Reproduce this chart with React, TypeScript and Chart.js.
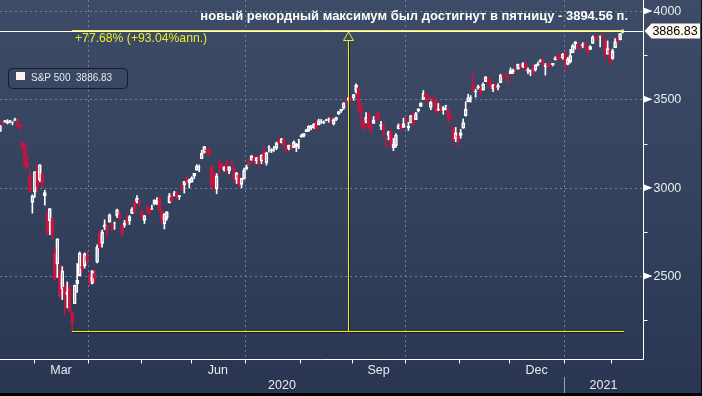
import React, { useEffect, useRef } from 'react';
import { Chart, registerables } from 'chart.js';

Chart.register(...registerables);

// ---- DATA (S&P 500 daily candles) ----
const dates: string[] = [
  '2020-02-10','2020-02-11','2020-02-12','2020-02-13','2020-02-14','2020-02-18','2020-02-19','2020-02-20','2020-02-21','2020-02-24','2020-02-25','2020-02-26','2020-02-27','2020-02-28',
  '2020-03-02','2020-03-03','2020-03-04','2020-03-05','2020-03-06','2020-03-09','2020-03-10','2020-03-11','2020-03-12','2020-03-13','2020-03-16','2020-03-17','2020-03-18','2020-03-19','2020-03-20','2020-03-23','2020-03-24','2020-03-25','2020-03-26','2020-03-27','2020-03-30','2020-03-31',
  '2020-04-01','2020-04-02','2020-04-03','2020-04-06','2020-04-07','2020-04-08','2020-04-09','2020-04-13','2020-04-14','2020-04-15','2020-04-16','2020-04-17','2020-04-20','2020-04-21','2020-04-22','2020-04-23','2020-04-24','2020-04-27','2020-04-28','2020-04-29','2020-04-30',
  '2020-05-01','2020-05-04','2020-05-05','2020-05-06','2020-05-07','2020-05-08','2020-05-11','2020-05-12','2020-05-13','2020-05-14','2020-05-15','2020-05-18','2020-05-19','2020-05-20','2020-05-21','2020-05-22','2020-05-26','2020-05-27','2020-05-28','2020-05-29',
  '2020-06-01','2020-06-02','2020-06-03','2020-06-04','2020-06-05','2020-06-08','2020-06-09','2020-06-10','2020-06-11','2020-06-12','2020-06-15','2020-06-16','2020-06-17','2020-06-18','2020-06-19','2020-06-22','2020-06-23','2020-06-24','2020-06-25','2020-06-26','2020-06-29','2020-06-30',
  '2020-07-01','2020-07-02','2020-07-06','2020-07-07','2020-07-08','2020-07-09','2020-07-10','2020-07-13','2020-07-14','2020-07-15','2020-07-16','2020-07-17','2020-07-20','2020-07-21','2020-07-22','2020-07-23','2020-07-24','2020-07-27','2020-07-28','2020-07-29','2020-07-30','2020-07-31',
  '2020-08-03','2020-08-04','2020-08-05','2020-08-06','2020-08-07','2020-08-10','2020-08-11','2020-08-12','2020-08-13','2020-08-14','2020-08-17','2020-08-18','2020-08-19','2020-08-20','2020-08-21','2020-08-24','2020-08-25','2020-08-26','2020-08-27','2020-08-28','2020-08-31',
  '2020-09-01','2020-09-02','2020-09-03','2020-09-04','2020-09-08','2020-09-09','2020-09-10','2020-09-11','2020-09-14','2020-09-15','2020-09-16','2020-09-17','2020-09-18','2020-09-21','2020-09-22','2020-09-23','2020-09-24','2020-09-25','2020-09-28','2020-09-29','2020-09-30',
  '2020-10-01','2020-10-02','2020-10-05','2020-10-06','2020-10-07','2020-10-08','2020-10-09','2020-10-12','2020-10-13','2020-10-14','2020-10-15','2020-10-16','2020-10-19','2020-10-20','2020-10-21','2020-10-22','2020-10-23','2020-10-26','2020-10-27','2020-10-28','2020-10-29','2020-10-30',
  '2020-11-02','2020-11-03','2020-11-04','2020-11-05','2020-11-06','2020-11-09','2020-11-10','2020-11-11','2020-11-12','2020-11-13','2020-11-16','2020-11-17','2020-11-18','2020-11-19','2020-11-20','2020-11-23','2020-11-24','2020-11-25','2020-11-27','2020-11-30',
  '2020-12-01','2020-12-02','2020-12-03','2020-12-04','2020-12-07','2020-12-08','2020-12-09','2020-12-10','2020-12-11','2020-12-14','2020-12-15','2020-12-16','2020-12-17','2020-12-18','2020-12-21','2020-12-22','2020-12-23','2020-12-24','2020-12-28','2020-12-29','2020-12-30','2020-12-31',
  '2021-01-04','2021-01-05','2021-01-06','2021-01-07','2021-01-08','2021-01-11','2021-01-12','2021-01-13','2021-01-14','2021-01-15','2021-01-19','2021-01-20','2021-01-21','2021-01-22','2021-01-25','2021-01-26','2021-01-27','2021-01-28','2021-01-29',
  '2021-02-01','2021-02-02','2021-02-03','2021-02-04','2021-02-05',
];

const open: number[] = [
  3318.28,3365.87,3370.50,3365.90,3378.08,3369.04,3380.39,3380.45,3360.50,3257.61,3238.94,3139.90,3062.54,2916.90,
  2974.28,3096.46,3045.75,3075.70,2954.20,2863.89,2813.48,2825.60,2630.86,2569.99,2508.59,2425.66,2436.50,2393.48,2431.94,2290.71,2344.44,2457.77,2501.29,2555.87,2558.98,2614.69,
  2498.08,2458.54,2514.92,2578.28,2738.65,2685.00,2776.99,2782.46,2805.10,2795.64,2799.34,2842.43,2845.62,2784.81,2787.89,2810.42,2812.64,2854.65,2909.96,2918.46,2930.91,
  2869.09,2815.01,2868.88,2883.14,2878.26,2908.83,2915.46,2939.50,2865.86,2794.54,2829.95,2913.86,2948.59,2953.63,2969.95,2948.05,3004.08,3015.65,3046.61,3025.17,
  3031.48,3064.78,3098.90,3111.56,3163.84,3199.92,3213.32,3213.42,3123.53,3071.04,2993.76,3131.00,3136.13,3101.64,3140.29,3094.42,3138.70,3114.40,3046.60,3073.20,3018.59,3050.20,
  3105.92,3143.64,3155.29,3166.44,3153.07,3176.17,3152.47,3205.08,3141.11,3225.98,3208.36,3224.21,3224.29,3268.52,3254.86,3271.64,3218.58,3219.84,3234.27,3227.22,3231.76,3270.45,
  3288.26,3289.92,3317.37,3323.17,3340.05,3356.04,3370.34,3355.46,3372.95,3368.66,3380.86,3387.04,3392.51,3360.48,3386.01,3418.09,3435.95,3449.97,3485.14,3494.69,3509.73,
  3507.44,3543.76,3564.74,3453.60,3371.88,3369.82,3412.56,3352.70,3363.56,3407.73,3411.23,3346.86,3357.38,3285.57,3295.75,3320.11,3226.14,3236.66,3333.90,3350.92,3341.21,
  3385.87,3338.94,3367.27,3408.74,3384.56,3434.28,3459.67,3500.02,3534.01,3515.47,3453.72,3493.50,3493.66,3439.38,3439.91,3438.50,3464.90,3441.42,3403.15,3342.48,3277.17,3293.59,
  3296.20,3336.25,3406.46,3485.74,3508.34,3583.04,3543.26,3563.22,3562.67,3552.57,3600.16,3610.31,3612.09,3559.41,3579.31,3566.82,3594.52,3635.50,3638.55,3634.18,
  3645.87,3653.78,3668.28,3670.94,3694.73,3683.05,3705.98,3659.13,3656.08,3675.27,3666.41,3696.25,3713.65,3722.39,3684.28,3698.08,3693.42,3694.03,3723.03,3750.01,3736.19,3733.27,
  3764.61,3698.02,3712.20,3764.71,3815.05,3803.14,3801.62,3802.23,3814.98,3788.73,3781.88,3816.22,3857.46,3844.24,3851.68,3862.96,3836.83,3755.75,3778.05,
  3731.17,3791.84,3840.27,3836.66,3878.30,
];

const high: number[] = [
  3352.26,3375.63,3381.47,3385.09,3380.69,3375.01,3393.52,3389.15,3360.76,3259.81,3246.99,3182.51,3097.07,2959.72,
  3090.96,3136.72,3130.97,3083.04,2985.93,2863.89,2882.59,2825.60,2660.95,2711.33,2562.98,2553.93,2453.57,2466.97,2453.01,2300.73,2449.71,2571.42,2637.01,2615.91,2631.80,2641.39,
  2522.75,2533.22,2538.18,2676.85,2756.89,2760.75,2818.57,2782.46,2851.85,2801.88,2806.51,2879.22,2868.98,2785.54,2815.10,2844.90,2842.71,2887.72,2921.15,2954.86,2930.91,
  2869.09,2844.24,2898.23,2891.11,2901.92,2932.16,2944.25,2945.82,2874.14,2852.80,2865.01,2968.09,2964.21,2980.29,2978.50,2956.76,3021.72,3036.25,3068.67,3049.17,
  3062.18,3081.07,3130.94,3128.91,3211.72,3233.13,3222.71,3223.27,3123.53,3088.42,3079.76,3153.45,3141.16,3120.00,3155.53,3120.92,3154.90,3115.01,3086.25,3073.73,3053.89,3111.51,
  3128.44,3165.81,3182.59,3184.15,3171.80,3179.78,3186.82,3235.32,3200.95,3238.28,3220.39,3233.52,3258.61,3277.29,3279.32,3279.99,3227.26,3241.43,3243.72,3264.74,3250.92,3272.17,
  3302.73,3306.84,3330.77,3351.03,3352.54,3363.29,3381.01,3387.89,3387.24,3378.51,3387.59,3395.06,3399.54,3390.80,3399.96,3432.09,3444.21,3481.07,3501.38,3509.23,3514.77,
  3528.03,3588.11,3564.85,3479.15,3379.97,3424.77,3425.55,3368.95,3402.93,3419.48,3428.92,3375.17,3362.27,3285.57,3320.31,3323.35,3278.70,3306.88,3360.74,3357.92,3393.56,
  3397.18,3369.10,3409.57,3431.56,3426.26,3447.28,3482.34,3549.85,3534.01,3527.94,3489.08,3515.76,3502.42,3476.93,3464.86,3460.53,3466.46,3441.42,3409.51,3342.48,3341.05,3304.93,
  3330.14,3389.49,3486.25,3529.05,3521.58,3645.99,3557.22,3581.16,3569.02,3593.66,3628.51,3623.11,3619.09,3585.22,3581.23,3589.81,3642.31,3635.50,3644.31,3634.18,
  3678.45,3670.96,3682.73,3699.20,3697.41,3708.45,3712.39,3678.49,3665.91,3697.61,3695.29,3711.27,3725.12,3726.70,3702.90,3698.26,3711.24,3703.82,3740.51,3756.12,3744.63,3760.20,
  3769.99,3737.83,3783.04,3811.55,3826.69,3817.86,3810.78,3820.96,3823.60,3788.73,3804.53,3859.75,3861.45,3852.31,3859.23,3870.90,3836.83,3830.50,3778.05,
  3784.32,3843.09,3847.51,3872.42,3894.56,
];

const low: number[] = [
  3317.77,3352.72,3369.72,3360.52,3366.15,3355.61,3378.83,3341.02,3328.45,3214.65,3118.77,3108.99,2977.39,2855.84,
  2945.19,2976.63,3034.38,2999.83,2901.54,2734.43,2734.00,2707.22,2478.86,2492.37,2380.94,2367.04,2280.52,2319.78,2295.56,2191.86,2344.44,2407.53,2500.72,2520.02,2545.28,2571.15,
  2447.49,2455.79,2459.96,2574.57,2657.67,2663.30,2762.36,2721.17,2805.10,2761.54,2764.32,2830.88,2820.43,2727.10,2775.95,2794.26,2791.76,2852.89,2860.71,2912.16,2892.47,
  2821.61,2797.85,2863.55,2847.65,2876.48,2902.88,2903.44,2869.59,2793.15,2766.64,2816.78,2913.86,2922.35,2953.63,2938.57,2933.59,2988.17,2969.75,3023.40,2998.61,
  3031.48,3051.64,3098.90,3090.41,3163.84,3196.00,3193.11,3181.49,2999.49,2984.47,2965.66,3076.06,3108.03,3093.51,3083.11,3079.39,3127.12,3032.13,3024.01,3004.63,2999.74,3047.83,
  3101.17,3124.52,3155.29,3142.93,3136.53,3115.70,3136.22,3149.43,3127.66,3200.76,3198.59,3205.65,3215.16,3247.77,3253.10,3222.66,3200.05,3214.25,3216.17,3227.22,3204.13,3220.26,
  3284.53,3286.37,3317.37,3318.14,3328.72,3335.44,3326.44,3355.46,3363.35,3361.64,3379.22,3370.15,3369.66,3354.69,3379.31,3413.13,3425.84,3444.15,3468.35,3484.32,3493.25,
  3494.60,3535.23,3427.41,3349.63,3329.27,3366.84,3329.25,3310.47,3363.56,3389.25,3384.45,3328.82,3292.40,3229.10,3270.95,3232.57,3209.45,3228.44,3332.91,3327.54,3340.47,
  3361.39,3323.69,3367.27,3354.54,3384.56,3428.15,3458.07,3499.61,3500.86,3480.55,3440.89,3480.45,3419.93,3435.65,3433.06,3415.34,3440.45,3364.86,3388.71,3268.89,3259.82,3233.94,
  3279.74,3336.25,3405.17,3485.74,3484.34,3547.48,3511.91,3557.00,3518.58,3552.57,3600.16,3588.68,3567.33,3543.84,3556.85,3552.77,3594.52,3617.76,3629.33,3594.39,
  3645.87,3644.84,3657.17,3670.94,3678.88,3678.83,3660.54,3645.18,3633.40,3645.84,3659.62,3688.57,3710.87,3685.84,3636.48,3676.16,3689.28,3689.32,3723.03,3723.31,3730.21,3726.88,
  3662.71,3695.07,3705.34,3764.71,3783.60,3789.02,3776.51,3791.50,3792.86,3749.62,3780.37,3816.22,3845.05,3830.41,3797.16,3847.78,3732.48,3755.75,3694.12,
  3725.62,3791.84,3816.68,3836.66,3874.93,
];

const close: number[] = [
  3352.09,3357.75,3379.45,3373.94,3380.16,3370.29,3386.15,3373.23,3337.75,3225.89,3128.21,3116.39,2978.76,2954.22,
  3090.23,3003.37,3130.12,3023.94,2972.37,2746.56,2882.23,2741.38,2480.64,2711.02,2386.13,2529.19,2398.10,2409.39,2304.92,2237.40,2447.33,2475.56,2630.07,2541.47,2626.65,2584.59,
  2470.50,2526.90,2488.65,2663.68,2659.41,2749.98,2789.82,2761.63,2846.06,2783.36,2799.55,2874.56,2823.16,2736.56,2799.31,2797.80,2836.74,2878.48,2863.39,2939.51,2912.43,
  2830.71,2842.74,2868.44,2848.42,2881.19,2929.80,2930.32,2870.12,2820.00,2852.50,2863.70,2953.91,2922.94,2971.61,2948.51,2955.45,2991.77,3036.13,3029.73,3044.31,
  3055.73,3080.82,3122.87,3112.35,3193.93,3232.39,3207.18,3190.14,3002.10,3041.31,3066.59,3124.74,3113.49,3115.34,3097.74,3117.86,3131.29,3050.33,3083.76,3009.05,3053.24,3100.29,
  3115.86,3130.01,3179.72,3145.32,3169.94,3152.05,3185.04,3155.22,3197.52,3226.56,3215.57,3224.73,3251.84,3257.30,3276.02,3235.66,3215.63,3239.41,3218.44,3258.44,3246.22,3271.12,
  3294.61,3306.51,3327.77,3349.16,3351.28,3360.47,3333.69,3380.35,3373.43,3372.85,3381.99,3389.78,3374.85,3385.51,3397.16,3431.28,3443.62,3478.73,3484.55,3508.01,3500.31,
  3526.65,3580.84,3455.06,3426.96,3331.84,3398.96,3339.19,3340.97,3383.54,3401.20,3385.49,3357.01,3319.47,3281.06,3315.57,3236.92,3246.59,3298.46,3351.60,3335.47,3363.00,
  3380.80,3348.42,3408.60,3360.97,3419.44,3446.83,3477.14,3534.22,3511.93,3488.67,3483.34,3483.81,3426.92,3443.12,3435.56,3453.49,3465.39,3400.97,3390.68,3271.03,3310.11,3269.96,
  3310.24,3369.16,3443.44,3510.45,3509.44,3550.50,3545.53,3572.66,3537.01,3585.15,3626.91,3609.53,3567.79,3581.87,3557.54,3577.59,3635.41,3629.65,3638.35,3621.63,
  3662.45,3669.01,3666.72,3699.12,3691.96,3702.25,3672.82,3668.10,3663.46,3647.49,3694.62,3701.17,3722.48,3709.41,3694.92,3687.26,3690.01,3703.06,3735.36,3727.04,3732.04,3756.07,
  3700.65,3726.86,3748.14,3803.79,3824.68,3799.61,3801.19,3809.84,3795.54,3768.25,3798.91,3851.85,3853.07,3841.47,3855.36,3849.62,3750.77,3787.38,3714.24,
  3773.86,3826.31,3830.17,3871.74,3886.83,
];

const yMajorTicks: number[] = [2500, 3000, 3500, 4000];
const yMinorTicks: number[] = [2250, 2750, 3250, 3750];
const labeledMonths: number[] = [3, 6, 9, 12];
const monthNames: string[] = ['', 'Jan', 'Feb', 'Mar', 'Apr', 'May', 'Jun', 'Jul', 'Aug', 'Sep', 'Oct', 'Nov', 'Dec'];
const gridMonths: number[] = [1, 4, 7, 10];

const titleText = 'новый рекордный максимум был достигнут в пятницу - 3894.56 п.';
const seriesName = 'S&P 500';
const lastValue = 3886.83;
const rangeLow = 2191.86;   // 23 Mar 2020 low
const rangeHigh = 3894.56;  // 5 Feb 2021 high
const rangeLowDate = '2020-03-23';
const rangeHighDate = '2021-02-05';
const changeText = '+77.68% (+93.04%ann.)';

const X_MIN = 0;
const X_MAX = 258.2;
const Y_MIN = 2031;
const Y_MAX = 4062;

const FONT = '"Liberation Sans", Arial, sans-serif';
const RED = '#c8143e';
const YELLOW = '#ecec2c';

export default function App() {
  const canvasRef = useRef<HTMLCanvasElement | null>(null);

  useEffect(() => {
    const canvas = canvasRef.current;
    if (!canvas) return;
    const n = close.length;
    const idx = Array.from({ length: n }, (_, i) => i);
    const up = idx.map((i) => close[i] >= open[i]);
    const col = idx.map((i) => (up[i] ? '#ffffff' : RED));

    const bodies = idx.map((i) => ({ x: i, y: [Math.min(open[i], close[i]), Math.max(open[i], close[i])] }));
    const wickHi = idx.map((i) => ({ x: i, y: [Math.max(open[i], close[i]), high[i]] }));
    const wickLo = idx.map((i) => ({ x: i, y: [low[i], Math.min(open[i], close[i])] }));

    const month = (d: string) => parseInt(d.slice(5, 7), 10);
    const year = (d: string) => parseInt(d.slice(0, 4), 10);
    const boundaries: { pos: number; m: number; y: number }[] = [];
    for (let i = 1; i < n; i++) {
      if (month(dates[i]) !== month(dates[i - 1])) boundaries.push({ pos: i - 0.5, m: month(dates[i]), y: year(dates[i]) });
    }

    const plugin = {
      id: 'bbgDecor',
      beforeDatasetsDraw(chart: any) {
        const { ctx, chartArea: a, scales } = chart;
        const xs = scales.x, ys = scales.y;
        ctx.save();
        ctx.strokeStyle = 'rgba(125,145,175,0.8)';
        ctx.lineWidth = 1;
        ctx.setLineDash([2, 3]);
        yMajorTicks.forEach((v) => {
          const py = Math.round(ys.getPixelForValue(v)) + 0.5;
          ctx.beginPath(); ctx.moveTo(a.left, py); ctx.lineTo(a.right, py); ctx.stroke();
        });
        boundaries.filter((b) => gridMonths.includes(b.m)).forEach((b) => {
          const px = Math.round(xs.getPixelForValue(b.pos)) + 0.5;
          ctx.beginPath(); ctx.moveTo(px, a.top); ctx.lineTo(px, a.bottom); ctx.stroke();
        });
        ctx.restore();
      },
      afterDatasetsDraw(chart: any) {
        const { ctx, chartArea: a, scales } = chart;
        const xs = scales.x, ys = scales.y;
        ctx.save();
        ctx.setLineDash([]);

        // last price line (white)
        const pyLast = Math.round(ys.getPixelForValue(lastValue)) + 0.5;
        ctx.strokeStyle = '#ffffff';
        ctx.lineWidth = 1;
        ctx.beginPath(); ctx.moveTo(a.left, pyLast); ctx.lineTo(a.right, pyLast); ctx.stroke();

        // range annotation (yellow)
        const x1 = Math.round(xs.getPixelForValue(dates.indexOf(rangeLowDate)));
        const x2 = Math.round(xs.getPixelForValue(dates.indexOf(rangeHighDate))) + 1;
        const yLo = Math.round(ys.getPixelForValue(rangeLow)) + 0.5;
        const yHi = Math.round(ys.getPixelForValue(rangeHigh)) + 0.5;
        const xm = Math.round((x1 + x2) / 2) + 0.5;
        // shadows
        ctx.strokeStyle = 'rgba(25,28,10,0.85)';
        ctx.beginPath(); ctx.moveTo(x1, yLo + 1); ctx.lineTo(x2, yLo + 1); ctx.stroke();
        ctx.beginPath(); ctx.moveTo(xm + 1, yHi + 10); ctx.lineTo(xm + 1, yLo); ctx.stroke();
        ctx.strokeStyle = YELLOW;
        ctx.lineWidth = 1;
        ctx.beginPath(); ctx.moveTo(x1, yLo); ctx.lineTo(x2, yLo); ctx.stroke();
        ctx.beginPath(); ctx.moveTo(x1, yHi); ctx.lineTo(x2, yHi); ctx.stroke();
        // arrow
        const triTop = yHi + 1.5, triBase = yHi + 10;
        ctx.beginPath();
        ctx.moveTo(xm, triTop); ctx.lineTo(xm + 5, triBase); ctx.lineTo(xm - 5, triBase); ctx.closePath();
        ctx.stroke();
        ctx.beginPath(); ctx.moveTo(xm, triBase); ctx.lineTo(xm, yLo); ctx.stroke();

        ctx.fillStyle = YELLOW;
        ctx.font = `12.2px ${FONT}`;
        ctx.textAlign = 'left';
        ctx.textBaseline = 'middle';
        ctx.fillText(changeText, x1 + 3, yHi + 8);

        // title
        ctx.fillStyle = '#ffffff';
        ctx.font = `bold 13px ${FONT}`;
        ctx.textAlign = 'right';
        ctx.fillText(titleText, 628, 16);

        // legend box
        ctx.strokeStyle = '#161c2a';
        ctx.lineWidth = 1;
        ctx.beginPath();
        (ctx as any).roundRect(8.5, 68.5, 119, 20, 4);
        ctx.stroke();
        ctx.fillStyle = '#fff1ee';
        ctx.fillRect(16, 72, 9, 8);
        ctx.fillStyle = '#e4e7ee';
        ctx.font = `10px ${FONT}`;
        ctx.textAlign = 'left';
        ctx.fillText(`${seriesName}  ${lastValue.toFixed(2)}`, 31, 78.5);

        // axes lines
        ctx.strokeStyle = '#ffffff';
        ctx.lineWidth = 1;
        const axX = Math.round(a.right) + 0.5;
        const axY = Math.round(a.bottom) + 0.5;
        ctx.beginPath(); ctx.moveTo(a.left, axY); ctx.lineTo(axX, axY); ctx.lineTo(axX, a.top); ctx.stroke();

        // y ticks
        ctx.fillStyle = '#ffffff';
        yMajorTicks.forEach((v) => {
          const py = ys.getPixelForValue(v);
          ctx.beginPath(); ctx.moveTo(axX + 9, py); ctx.lineTo(axX, py - 3.5); ctx.lineTo(axX, py + 3.5); ctx.closePath(); ctx.fill();
        });
        yMinorTicks.forEach((v) => {
          const py = Math.round(ys.getPixelForValue(v)) + 0.5;
          ctx.beginPath(); ctx.moveTo(axX, py); ctx.lineTo(axX + 4, py); ctx.stroke();
        });
        ctx.fillStyle = '#e8ebf0';
        ctx.font = `12.5px ${FONT}`;
        ctx.textAlign = 'left';
        ctx.textBaseline = 'middle';
        yMajorTicks.forEach((v) => {
          ctx.fillText(String(v), axX + 10, ys.getPixelForValue(v) + 0.5);
        });

        // last price tag
        const tagY = ys.getPixelForValue(lastValue);
        ctx.fillStyle = '#fffaf2';
        ctx.beginPath();
        ctx.moveTo(axX + 1, tagY);
        ctx.lineTo(axX + 8, tagY - 7.5);
        ctx.lineTo(700, tagY - 7.5);
        ctx.lineTo(700, tagY + 7.5);
        ctx.lineTo(axX + 8, tagY + 7.5);
        ctx.closePath();
        ctx.fill();
        ctx.fillStyle = '#000000';
        ctx.font = `12.5px ${FONT}`;
        ctx.textAlign = 'center';
        ctx.fillText(lastValue.toFixed(2), 675, tagY + 0.5);

        // x ticks + labels
        ctx.strokeStyle = '#ffffff';
        boundaries.forEach((b) => {
          const px = Math.round(xs.getPixelForValue(b.pos)) + 0.5;
          ctx.beginPath(); ctx.moveTo(px, axY); ctx.lineTo(px, axY + 4); ctx.stroke();
        });
        ctx.fillStyle = '#e8ebf0';
        ctx.font = `12.5px ${FONT}`;
        ctx.textAlign = 'center';
        boundaries.forEach((b, k) => {
          if (!labeledMonths.includes(b.m)) return;
          const next = boundaries[k + 1];
          const endPos = next ? next.pos : X_MAX;
          const cx = (xs.getPixelForValue(b.pos) + xs.getPixelForValue(endPos)) / 2;
          ctx.fillText(monthNames[b.m], cx, 371);
        });
        // years
        const yearB = boundaries.filter((b) => b.m === 1);
        const yearStarts = [{ pos: X_MIN, y: year(dates[0]) }, ...yearB.map((b) => ({ pos: b.pos, y: b.y }))];
        yearStarts.forEach((s, k) => {
          const endPos = k + 1 < yearStarts.length ? yearStarts[k + 1].pos : X_MAX;
          const cx = (xs.getPixelForValue(Math.max(s.pos, X_MIN)) + xs.getPixelForValue(endPos)) / 2;
          ctx.fillText(String(s.y), cx, 386);
        });
        ctx.strokeStyle = '#9aa4b6';
        yearB.forEach((b) => {
          const px = Math.round(xs.getPixelForValue(b.pos)) + 0.5;
          ctx.beginPath(); ctx.moveTo(px, 377); ctx.lineTo(px, 393); ctx.stroke();
        });

        ctx.restore();
      },
    };

    const chart = new Chart(canvas, {
      type: 'bar',
      data: {
        datasets: [
          { data: wickHi as any, backgroundColor: col, barThickness: 1, grouped: false, borderWidth: 0 } as any,
          { data: wickLo as any, backgroundColor: col, barThickness: 1, grouped: false, borderWidth: 0 } as any,
          {
            data: bodies as any,
            backgroundColor: idx.map((i) => (up[i] ? 'rgba(0,0,0,0)' : RED)),
            borderColor: col,
            borderWidth: 1,
            borderSkipped: false,
            barThickness: 3,
            grouped: false,
          } as any,
        ],
      },
      options: {
        responsive: false,
        animation: false,
        devicePixelRatio: 1,
        layout: { padding: { left: 0, top: 0, right: 59, bottom: 37 } },
        plugins: { legend: { display: false }, tooltip: { enabled: false }, title: { display: false } },
        scales: {
          x: { type: 'linear', min: X_MIN, max: X_MAX, display: false, offset: false },
          y: { type: 'linear', min: Y_MIN, max: Y_MAX, display: false },
        },
      },
      plugins: [plugin],
    });
    return () => chart.destroy();
  }, []);

  return (
    <div
      style={{
        position: 'absolute',
        left: 0,
        top: 0,
        width: 702,
        height: 396,
        background: 'linear-gradient(180deg, #3d4b67 0%, #34425d 50%, #2a3651 100%)',
        overflow: 'hidden',
      }}
    >
      <canvas ref={canvasRef} width={702} height={396} style={{ display: 'block' }} />
      <div style={{ position: 'absolute', left: 0, bottom: 0, width: 702, height: 3, background: '#000' }} />
      <div style={{ position: 'absolute', right: 0, top: 0, width: 1, height: 396, background: '#0a0d14' }} />
    </div>
  );
}
